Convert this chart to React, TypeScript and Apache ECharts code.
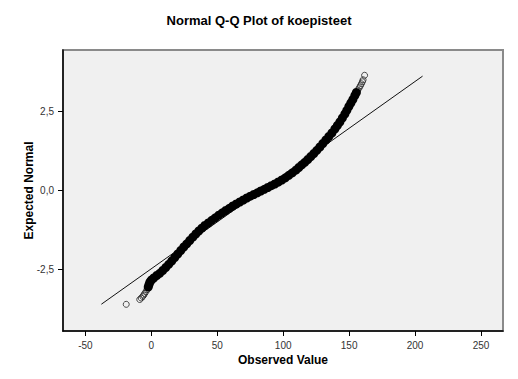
import React, { useEffect, useRef } from "react";
import * as echarts from "echarts";

// Reference line (normal expectation)
const refLineX = [-37.9, 205.7];
const refLineY = [-3.61, 3.63];

// Lower tail (sparse, open circles)
const lowTailX = [-19.05, -8.8, -7.66, -6.53, -5.77, -5.01, -4.02, -3.26];
const lowTailY = [-3.613, -3.46, -3.413, -3.365, -3.317, -3.27, -3.206, -3.143];

// Dense body of observations
const bodyX = [
  -2.35, -1.75, -1.06, 0.08, 1.82, 4.1, 6.37, 8.65, 10.93, 13.2, 15.48, 17.76, 20.03, 22.31, 24.59,
  26.87, 29.14, 31.42, 33.7, 35.97, 38.25, 40.53, 43.18, 45.84, 48.49, 51.15, 53.81, 56.46, 59.12,
  61.77, 64.43, 67.09, 69.74, 72.4, 75.06, 77.71, 80.37, 83.02, 85.68, 88.34, 90.99, 93.65, 96.3,
  98.96, 101.62, 104.27, 106.93, 109.59, 111.86, 114.14, 116.41, 118.69, 120.97, 123.25, 125.52,
  127.8, 130.08, 132.35, 134.63, 136.91, 139.18, 141.08, 142.98, 144.87, 146.77, 148.29, 149.81,
  151.32, 152.84, 154.36, 155.5,
];
const bodyY = [
  -3.063, -2.984, -2.905, -2.841, -2.778, -2.698, -2.629, -2.54, -2.444, -2.343, -2.238, -2.127,
  -2.016, -1.905, -1.794, -1.692, -1.587, -1.483, -1.381, -1.286, -1.197, -1.111, -1.032, -0.946,
  -0.867, -0.784, -0.708, -0.635, -0.565, -0.492, -0.429, -0.365, -0.302, -0.238, -0.181, -0.127,
  -0.073, -0.016, 0.038, 0.095, 0.152, 0.206, 0.27, 0.333, 0.403, 0.483, 0.562, 0.644, 0.73, 0.816,
  0.895, 0.984, 1.079, 1.175, 1.276, 1.381, 1.492, 1.603, 1.714, 1.825, 1.952, 2.063, 2.175, 2.302,
  2.429, 2.546, 2.667, 2.778, 2.889, 3.016, 3.111,
];

// Upper tail (sparse, open circles)
const highTailX = [156.64, 157.62, 158.53, 159.29, 160.05, 160.58, 161.72];
const highTailY = [3.19, 3.26, 3.324, 3.387, 3.451, 3.514, 3.657];

// Axis ticks
const xTickValues = [-50, 0, 50, 100, 150, 200, 250];
const yTickValues = [-2.5, 0, 2.5];

const zip = (xs: number[], ys: number[]) => xs.map((x, i) => [x, ys[i]]);

const FONT = 'Arial, "Liberation Sans", sans-serif';

export default function App() {
  const ref = useRef<HTMLDivElement>(null);
  useEffect(() => {
    if (!ref.current) return;
    const chart = echarts.init(ref.current, null, { renderer: "svg" });
    const openCircle = {
      type: "scatter" as const,
      symbol: "circle",
      symbolSize: 6,
      itemStyle: { color: "rgba(0,0,0,0)", borderColor: "#222", borderWidth: 1 },
      z: 4,
    };
    chart.setOption({
      animation: false,
      backgroundColor: "#fff",
      title: {
        text: "Normal Q-Q Plot of koepisteet",
        left: "center",
        top: 9,
        textStyle: { fontFamily: FONT, fontSize: 13, fontWeight: "bold", color: "#000" },
      },
      grid: {
        left: 63,
        right: 15,
        top: 50,
        bottom: 48,
        show: true,
        backgroundColor: "#f0f0f0",
        borderColor: "#8a8a8a",
        borderWidth: 2,
      },
      xAxis: {
        type: "value",
        min: -67,
        max: 266.7,
        name: "Observed Value",
        nameLocation: "middle",
        nameGap: 23,
        nameMoveOverlap: false,
        nameTextStyle: { fontFamily: FONT, fontSize: 12, fontWeight: "bold", color: "#000" },
        axisLine: { onZero: false, lineStyle: { color: "#000", width: 1.5 } },
        axisTick: { show: true, length: 5, customValues: xTickValues, lineStyle: { color: "#000", width: 1 } },
        axisLabel: {
          customValues: xTickValues,
          margin: 9,
          fontFamily: FONT,
          fontSize: 10,
          color: "#333",
          formatter: (v: number) => String(v),
        },
        splitLine: { show: false },
      },
      yAxis: {
        type: "value",
        min: -4.46,
        max: 4.46,
        name: "Expected Normal",
        nameLocation: "middle",
        nameRotate: 90,
        nameGap: 28,
        nameMoveOverlap: false,
        nameTextStyle: { fontFamily: FONT, fontSize: 12, fontWeight: "bold", color: "#000" },
        axisLine: { onZero: false, lineStyle: { color: "#000", width: 1.5 } },
        axisTick: { show: true, length: 5, customValues: yTickValues, lineStyle: { color: "#000", width: 1 } },
        axisLabel: {
          customValues: yTickValues,
          margin: 9,
          fontFamily: FONT,
          fontSize: 10,
          color: "#333",
          formatter: (v: number) => v.toFixed(1).replace(".", ","),
        },
        splitLine: { show: false },
      },
      series: [
        {
          type: "line",
          data: zip(refLineX, refLineY),
          symbol: "none",
          lineStyle: { color: "#111", width: 1 },
          z: 3,
        },
        { ...openCircle, data: zip(lowTailX, lowTailY) },
        {
          type: "scatter",
          symbol: "circle",
          symbolSize: 9,
          itemStyle: { color: "#000", borderColor: "#000", borderWidth: 0, opacity: 1 },
          data: zip(bodyX, bodyY),
          z: 5,
        },
        { ...openCircle, data: zip(highTailX, highTailY) },
      ],
    });
    return () => chart.dispose();
  }, []);
  return (
    <div
      ref={ref}
      style={{ position: "absolute", left: 0, top: 0, width: 518, height: 379 }}
    />
  );
}
